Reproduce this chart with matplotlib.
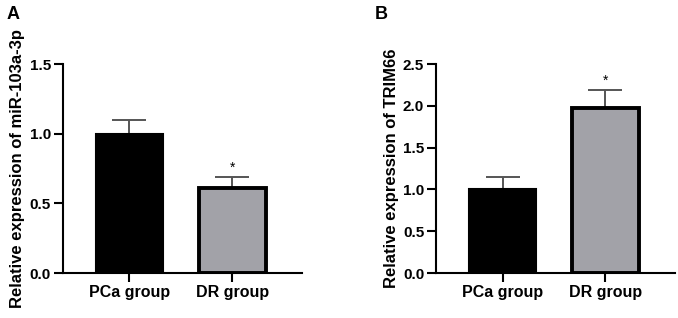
import numpy as np
from matplotlib import pyplot as plt

plt.rcParams['font.family'] = ['Liberation Sans', 'DejaVu Sans']
plt.rcParams['font.weight'] = 'bold'

groups = ['PCa group', 'DR group']
mir_mean = [1.0, 0.61]
mir_err = [0.10, 0.08]
trim_mean = [1.0, 1.97]
trim_err = [0.15, 0.22]
colors = ['#000000', '#a2a2a8']

fig = plt.figure(figsize=(6.78, 3.18), dpi=100)


def panel(rect, means, errs, ylim, yticks, ylabel, letter, letter_xy):
    ax = fig.add_axes(rect)
    x = np.arange(len(groups))
    ax.bar(x, means, width=0.65, color=colors, edgecolor='black',
           linewidth=[1.5, 2.8], zorder=2)
    ax.errorbar(x, means, yerr=[np.zeros(len(errs)), errs], fmt='none',
                ecolor='#555555', elinewidth=1.4, capsize=12, capthick=1.4, zorder=1)
    ax.text(x[1], means[1] + errs[1] + ylim[1] * 0.01, '*', ha='center', va='bottom',
            fontsize=10, fontweight='normal')
    ax.set_xlim(-0.65, 1.68)
    ax.set_ylim(*ylim)
    ax.set_yticks(yticks)
    ax.set_yticklabels(['%.1f' % v for v in yticks])
    ax.set_xticks(x)
    ax.set_xticklabels(groups)
    for s in ['top', 'right']:
        ax.spines[s].set_visible(False)
    for s in ['left', 'bottom']:
        ax.spines[s].set_linewidth(1.5)
    ax.tick_params(axis='both', width=1.5, length=6.5, direction='out', pad=2)
    ax.tick_params(axis='y', labelsize=11)
    ax.tick_params(axis='x', labelsize=11.5)
    ax.set_ylabel(ylabel, fontsize=12, fontweight='bold', labelpad=3)
    fig.text(letter_xy[0], letter_xy[1], letter, fontsize=13, fontweight='bold',
             ha='left', va='top')
    return ax


panel([0.0925, 0.1415, 0.353, 0.657], mir_mean, mir_err, (0, 1.5),
      [0.0, 0.5, 1.0, 1.5], 'Relative expression of miR-103a-3p', 'A',
      (0.01, 0.98))
panel([0.643, 0.1415, 0.353, 0.657], trim_mean, trim_err, (0, 2.5),
      [0.0, 0.5, 1.0, 1.5, 2.0, 2.5], 'Relative expression of TRIM66', 'B',
      (0.552, 0.98))

fig.savefig('out.png', dpi=100)
